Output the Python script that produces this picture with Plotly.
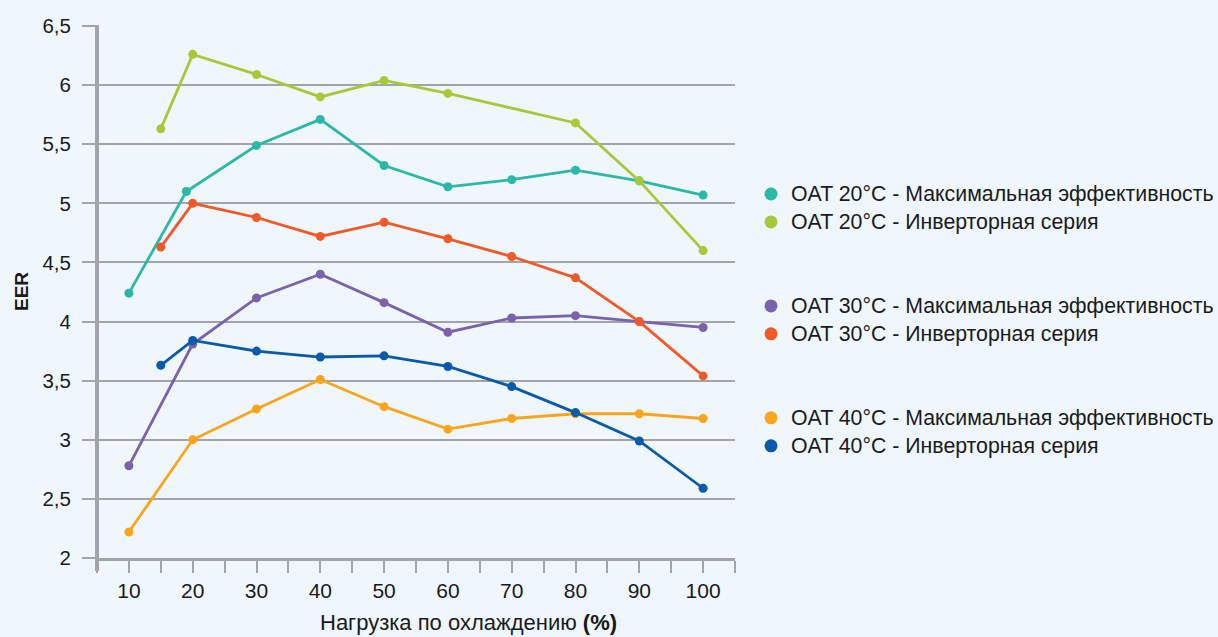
import plotly.graph_objects as go

# ---- data ----
x_max20 = [10, 19, 30, 40, 50, 60, 70, 80, 90, 100]
y_max20 = [4.24, 5.10, 5.49, 5.71, 5.32, 5.14, 5.20, 5.28, 5.19, 5.07]

x_inv20 = [15, 20, 30, 40, 50, 60, 80, 90, 100]
y_inv20 = [5.63, 6.26, 6.09, 5.90, 6.04, 5.93, 5.68, 5.19, 4.60]

x_max30 = [10, 20, 30, 40, 50, 60, 70, 80, 90, 100]
y_max30 = [2.78, 3.81, 4.20, 4.40, 4.16, 3.91, 4.03, 4.05, 4.00, 3.95]

x_inv30 = [15, 20, 30, 40, 50, 60, 70, 80, 90, 100]
y_inv30 = [4.63, 5.00, 4.88, 4.72, 4.84, 4.70, 4.55, 4.37, 4.00, 3.54]

x_max40 = [10, 20, 30, 40, 50, 60, 70, 80, 90, 100]
y_max40 = [2.22, 3.00, 3.26, 3.51, 3.28, 3.09, 3.18, 3.22, 3.22, 3.18]

x_inv40 = [15, 20, 30, 40, 50, 60, 70, 80, 90, 100]
y_inv40 = [3.63, 3.84, 3.75, 3.70, 3.71, 3.62, 3.45, 3.23, 2.99, 2.59]

series = [
    ("OAT 20°C - Максимальная эффективность", x_max20, y_max20, "#2bb8a6", "g20"),
    ("OAT 20°C - Инверторная серия", x_inv20, y_inv20, "#a6c93a", "g20"),
    ("OAT 30°C - Максимальная эффективность", x_max30, y_max30, "#7b62ac", "g30"),
    ("OAT 30°C - Инверторная серия", x_inv30, y_inv30, "#f05a28", "g30"),
    ("OAT 40°C - Максимальная эффективность", x_max40, y_max40, "#f9a51e", "g40"),
    ("OAT 40°C - Инверторная серия", x_inv40, y_inv40, "#0a5aaa", "g40"),
]

x_title = "Нагрузка по охлаждению <b>(%)</b>"
y_title = "<b>EER</b>"

FONT = "Liberation Sans, Arial, sans-serif"
BG = "#eff7fd"
GRID = "#a2a4aa"

fig = go.Figure()
for name, xs, ys, col, grp in series:
    fig.add_trace(go.Scatter(
        x=xs, y=ys, mode="lines+markers", name=name,
        line=dict(color=col, width=2.8),
        marker=dict(color=col, size=9),
        showlegend=False, legendgroup=grp, hoverinfo="skip"))
for name, xs, ys, col, grp in series:
    fig.add_trace(go.Scatter(
        x=[None], y=[None], mode="markers",
        name='<span style="font-size:21.3px">' + name + "</span>",
        marker=dict(color=col, size=13),
        showlegend=True, legendgroup=grp))

L, R, T, B = 97, 735, 26, 558
W, H = 1218, 637
pw, ph = R - L, B - T

fig.update_layout(
    width=W, height=H,
    margin=dict(l=L, r=W - R, t=T, b=H - B, pad=0, autoexpand=False),
    paper_bgcolor=BG, plot_bgcolor=BG,
    separators=", ",
    font=dict(family=FONT, size=20, color="#1a1a1a"),
    showlegend=True,
    legend=dict(
        x=(751 - L) / pw, xanchor="left",
        y=(B - 175) / ph, yanchor="top",
        traceorder="grouped", tracegroupgap=56,
        bgcolor="rgba(0,0,0,0)", font=dict(size=19.2, family=FONT),
        itemclick=False,
    ),
    xaxis=dict(
        range=[5, 105], tick0=10, dtick=10,
        showgrid=False, zeroline=False,
        showline=True, linecolor=GRID, linewidth=3,
        ticks="outside", ticklen=12, tickwidth=1.5, tickcolor=GRID,
        tickfont=dict(size=21, family=FONT),
        minor=dict(dtick=5, tick0=5, ticks="outside", ticklen=12,
                   tickwidth=1.5, tickcolor=GRID, showgrid=False),
        fixedrange=True,
    ),
    yaxis=dict(
        range=[2, 6.5], tick0=2, dtick=0.5,
        showgrid=True, gridcolor=GRID, gridwidth=1.5, zeroline=False,
        showline=False,
        ticks="outside", ticklen=14, tickwidth=1.5, tickcolor=GRID,
        tickfont=dict(size=20.5, family=FONT),
        ticklabelstandoff=7,
        fixedrange=True,
    ),
)

# vertical y-axis line extending below the x axis
fig.add_shape(type="line", xref="x domain", yref="y domain",
              x0=0, x1=0, y0=-13 / ph, y1=1.002,
              line=dict(color=GRID, width=4), layer="above")

fig.add_annotation(text=x_title, xref="paper", yref="paper",
                   x=(468 - L) / pw, y=-(622 - B) / ph,
                   xanchor="center", yanchor="middle", showarrow=False,
                   font=dict(size=22, family=FONT, color="#1a1a1a"))
fig.add_annotation(text=y_title, xref="paper", yref="paper",
                   x=(21 - L) / pw, y=0.5, textangle=-90,
                   xanchor="center", yanchor="middle", showarrow=False,
                   font=dict(size=19, family=FONT, color="#1a1a1a"))

fig.write_html("out.html", config={"displayModeBar": False})
